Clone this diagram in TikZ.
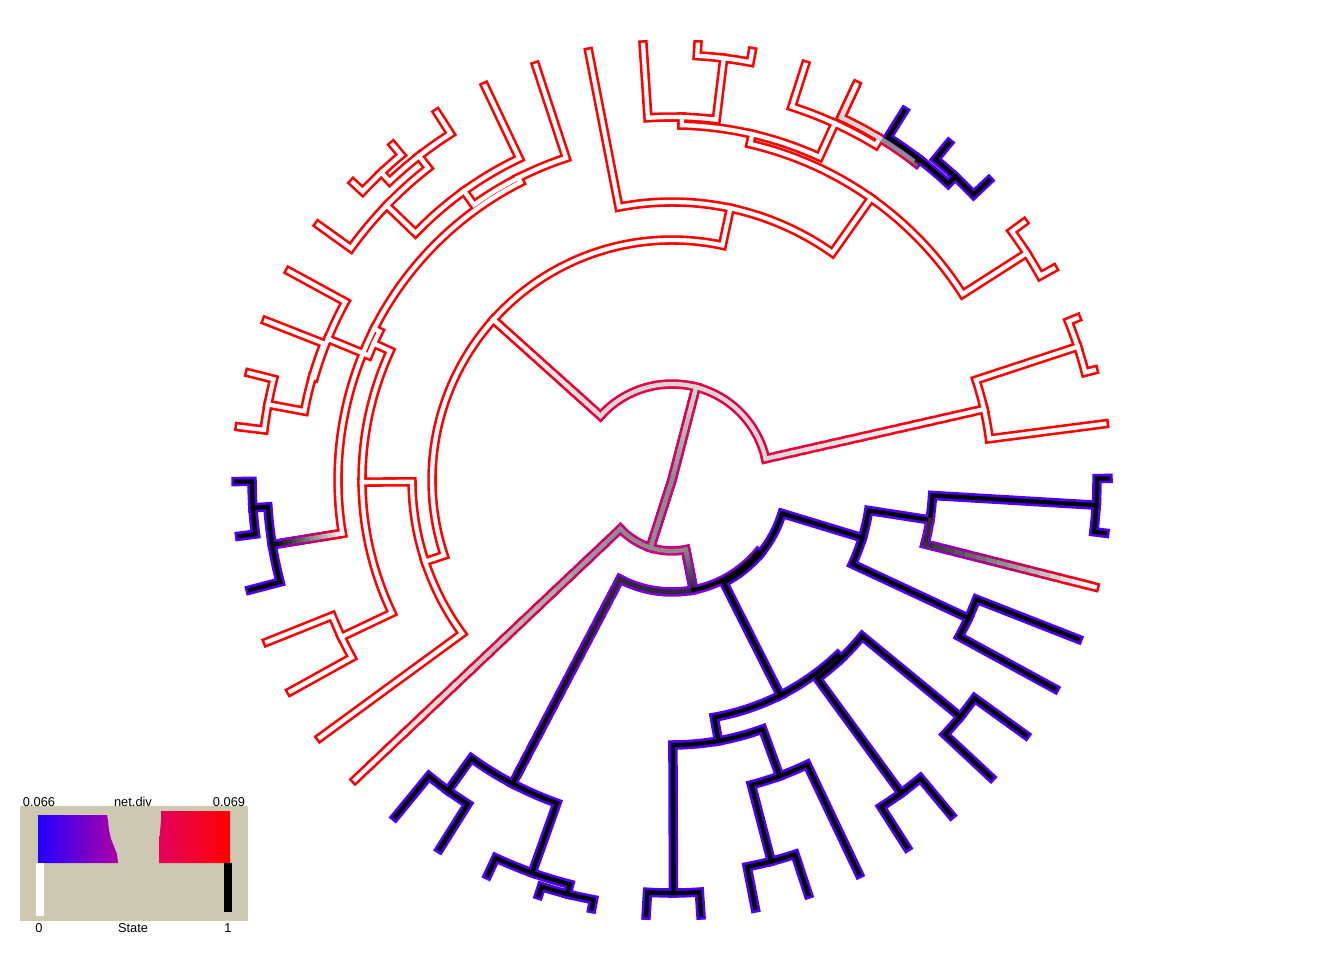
\documentclass[tikz,border=0pt]{standalone}
\usepackage{fontspec}
\setmainfont{Liberation Sans}
\usetikzlibrary{calc}

\newdimen\px
\px=0.02cm

\definecolor{netred}{RGB}{255,0,0}
\definecolor{netblue}{RGB}{78,0,252}
\definecolor{netpurple}{RGB}{125,0,225}
\definecolor{netmagenta}{RGB}{205,0,125}
\definecolor{netcrimson}{RGB}{232,0,70}
\definecolor{lightgrey}{RGB}{215,215,215}
\definecolor{midgrey}{RGB}{140,140,140}
\definecolor{darkgrey}{RGB}{45,45,45}
\definecolor{legendbg}{RGB}{205,200,177}

\newif\ifoutline

% store angle and radius of a tree node
\newcommand\tnode[3]{%
  \expandafter\xdef\csname tA@#1\endcsname{#2}%
  \expandafter\xdef\csname tR@#1\endcsname{#3}%
  \coordinate (#1) at (#2:#3);}
% internal node sits at the mean angle of its two children
\newcommand\inode[4]{%
  \pgfmathsetmacro\nodeang{(\csname tA@#2\endcsname+\csname tA@#3\endcsname)/2}%
  \tnode{#1}{\nodeang}{#4}}

% branch: arc on the parent radius, then out to the child
\newcommand\edge[4]{%
  \ifoutline\def\brcol{#3}\else\def\brcol{#4}\fi
  \draw[branch, color=\brcol] (#1)
    arc[start angle=\csname tA@#1\endcsname, end angle=\csname tA@#2\endcsname,
        radius=\csname tR@#1\endcsname\px] -- (#2);}
\newcommand\redge[2]{\edge{#1}{#2}{netred}{white}}
\newcommand\bedge[2]{\edge{#1}{#2}{netblue}{black}}

% straight piece whose colour runs from \brcol to \brend
\newcommand\gradline[2]{%
  \foreach \i in {1,...,16}{
    \pgfmathtruncatemacro\mix{100*(\i-0.5)/16}
    \draw[branch, color=\brend!\mix!\brcol]
      ($(#1)!{(\i-1)/16}!(#2)$) -- ($(#1)!{\i/16}!(#2)$);
  }}
% branch with colours changing along it
\newcommand\gedge[6]{%
  \ifoutline\def\brcol{#3}\def\brend{#4}\else\def\brcol{#5}\def\brend{#6}\fi
  \coordinate (#2-foot) at (\csname tA@#2\endcsname:\csname tR@#1\endcsname);
  \draw[branch, color=\brcol] (#1)
    arc[start angle=\csname tA@#1\endcsname, end angle=\csname tA@#2\endcsname,
        radius=\csname tR@#1\endcsname\px] -- (#2-foot);
  \gradline{#2-foot}{#2}}
% root branches start at the centre, no arc
\newcommand\rootedge[6]{%
  \ifoutline\def\brcol{#3}\def\brend{#4}\else\def\brcol{#5}\def\brend{#6}\fi
  \gradline{#1}{#2}}

\begin{document}
\begin{tikzpicture}[
    x=\px, y=\px,
    branch/.style={line width=\brwidth, line cap=rect, line join=miter},
    legend text/.style={font=\fontsize{7.3}{8}\selectfont, inner sep=0pt}
]
\useasboundingbox (0,0) rectangle (1344,960);

\begin{scope}[shift={(672,480)}]

% Tips
\foreach \k in {1,...,50}{
  \pgfmathsetmacro\tipang{7.2*\k+0.2}
  \tnode{t\k}{\tipang}{436}
}

% Nodes (lower half)
\inode{W}{t50}{t49}{425}
\inode{Z}{W}{t48}{261}
\inode{Y2}{t47}{t46}{327}
\inode{Y}{Z}{Y2}{199}
\inode{V2a}{t45}{t44}{373}
\inode{V2b}{t43}{t42}{388}
\inode{V2}{V2b}{V2a}{246}
\inode{T1a}{t39}{t40}{394}
\inode{T1}{T1a}{t41}{315}
\inode{U1}{t37}{t38}{413}
\inode{U}{U1}{T1}{265}
\inode{V}{U}{V2}{241}
\inode{X}{V}{Y}{115}
\inode{C1}{t32}{t33}{383}
\inode{C3}{t35}{t36}{427}
\inode{C2}{t34}{C3}{417}
\inode{C}{C1}{C2}{343}
\inode{B2}{C}{X}{112}
\inode{B}{t31}{B2}{71}

% Nodes (upper half)
\inode{A2a}{t2}{t3}{427}
\inode{A2}{t1}{A2a}{320}
\inode{Ntr}{t4}{t5}{421}
\inode{Bl1}{t6}{t7}{415}
\inode{Bl}{Bl1}{t8}{405}
\inode{N9}{Bl}{t9}{400}
\inode{N10}{N9}{t10}{392}
\inode{T}{t11}{t12}{425}
\inode{R}{T}{t13}{363}
\inode{S}{N10}{R}{355}
\inode{Q}{Ntr}{S}{345}
\inode{P}{Q}{t14}{278}
\inode{N1819}{t18}{t19}{423}
\inode{N17}{t17}{N1819}{411}
\inode{N135}{N17}{t20}{396}
\inode{J16}{t16}{N135}{356}
\inode{J15}{t15}{J16}{339}
\inode{BL1}{t25}{t26}{420}
\inode{BL}{BL1}{t27}{405}
\inode{K}{J15}{BL}{334}
\inode{H34}{t23}{t24}{411}
\inode{H2}{t22}{H34}{374}
\inode{H}{t21}{H2}{372}
\inode{Kx}{K}{H}{328}
\inode{T2829}{t28}{t29}{366}
\inode{L1}{Kx}{T2829}{310}
\inode{L}{L1}{t30}{260}
\inode{A1}{P}{L}{240}
\inode{A}{A2}{A1}{96}
\coordinate (root) at (0,0);

% Edges: outline first, then inside
\foreach \pass in {1,0}{
  \ifnum\pass=1 \outlinetrue\def\brwidth{5.4pt}\else\outlinefalse\def\brwidth{2.45pt}\fi
  \rootedge{root}{A}{netmagenta}{netcrimson}{midgrey}{lightgrey}
  \rootedge{root}{B}{netmagenta}{netmagenta}{midgrey}{midgrey}
  \gedge{A}{A2}{netcrimson}{netred}{lightgrey}{white}
  \gedge{A}{A1}{netcrimson}{netred}{lightgrey}{white}
  \redge{A2}{t1} \redge{A2}{A2a} \redge{A2a}{t2} \redge{A2a}{t3}
  \redge{A1}{P} \redge{A1}{L}
  \redge{P}{Q} \redge{P}{t14}
  \redge{Q}{Ntr} \redge{Q}{S}
  \redge{Ntr}{t4} \redge{Ntr}{t5}
  \redge{S}{N10} \redge{S}{R}
  \redge{N10}{N9} \redge{N10}{t10}
  \gedge{N9}{Bl}{netcrimson}{netpurple}{midgrey}{black}
  \gedge{N9}{t9}{netred}{netred}{lightgrey}{white}
  \bedge{Bl}{Bl1} \bedge{Bl}{t8} \bedge{Bl1}{t6} \bedge{Bl1}{t7}
  \redge{R}{T} \redge{R}{t13} \redge{T}{t11} \redge{T}{t12}
  \redge{L}{L1} \redge{L}{t30}
  \redge{L1}{Kx} \redge{L1}{T2829}
  \redge{T2829}{t28} \redge{T2829}{t29}
  \redge{Kx}{K} \redge{Kx}{H}
  \redge{K}{J15}
  \gedge{K}{BL}{netred}{netpurple}{white}{black}
  \redge{J15}{t15} \redge{J15}{J16}
  \redge{J16}{t16} \redge{J16}{N135}
  \redge{N135}{N17} \redge{N135}{t20}
  \redge{N17}{t17} \redge{N17}{N1819}
  \redge{N1819}{t18} \redge{N1819}{t19}
  \redge{H}{t21} \redge{H}{H2}
  \redge{H2}{t22} \redge{H2}{H34}
  \redge{H34}{t23} \redge{H34}{t24}
  \bedge{BL}{BL1} \bedge{BL}{t27} \bedge{BL1}{t25} \bedge{BL1}{t26}
  \gedge{B}{t31}{netmagenta}{netred}{midgrey}{white}
  \gedge{B}{B2}{netmagenta}{netpurple}{midgrey}{darkgrey}
  \gedge{B2}{C}{netpurple}{netblue}{darkgrey}{black}
  \edge{B2}{X}{netpurple}{black}
  \bedge{C}{C1} \bedge{C}{C2}
  \bedge{C1}{t32} \bedge{C1}{t33}
  \bedge{C2}{t34} \bedge{C2}{C3}
  \bedge{C3}{t35} \bedge{C3}{t36}
  \bedge{X}{V} \bedge{X}{Y}
  \bedge{V}{U} \bedge{V}{V2}
  \bedge{U}{U1} \bedge{U}{T1}
  \bedge{U1}{t37} \bedge{U1}{t38}
  \bedge{T1}{T1a} \bedge{T1}{t41}
  \bedge{T1a}{t39} \bedge{T1a}{t40}
  \bedge{V2}{V2b} \bedge{V2}{V2a}
  \bedge{V2b}{t43} \bedge{V2b}{t42}
  \bedge{V2a}{t45} \bedge{V2a}{t44}
  \bedge{Y}{Z} \bedge{Y}{Y2}
  \bedge{Z}{W}
  \gedge{Z}{t48}{netpurple}{netred}{darkgrey}{white}
  \bedge{W}{t50} \bedge{W}{t49}
  \bedge{Y2}{t47} \bedge{Y2}{t46}
}
\end{scope}

% Legend
\fill[legendbg] (20,39) rectangle (248,154);
\shade[left color={rgb,255:red,35;green,0;blue,255}, right color={rgb,255:red,172;green,0;blue,165}]
  (38,145) -- (107,145) -- (108,139) -- (109,130) -- (111,121) -- (113,116)
  -- (115,111) -- (117,106) -- (118,97) -- (38,97) -- cycle;
\shade[left color={rgb,255:red,225;green,0;blue,92}, right color=netred]
  (161,149) -- (230,149) -- (230,97) -- (159,97) -- (159,112) -- (160,128) -- (161,140) -- cycle;
\fill[white] (36,97) rectangle (44,44);
\fill[black] (224,97) rectangle (232,48);

\node[legend text, anchor=base] (lmin) at (39,154) {0.066};
\node[legend text, anchor=base] (lname) at (133,154) {net.div};
\node[legend text, anchor=base] (lmax) at (229,154) {0.069};
\node[legend text, anchor=base] (smin) at (39,28) {0};
\node[legend text, anchor=base] (sname) at (133,28) {State};
\node[legend text, anchor=base] (smax) at (228,28) {1};

\end{tikzpicture}
\end{document}
